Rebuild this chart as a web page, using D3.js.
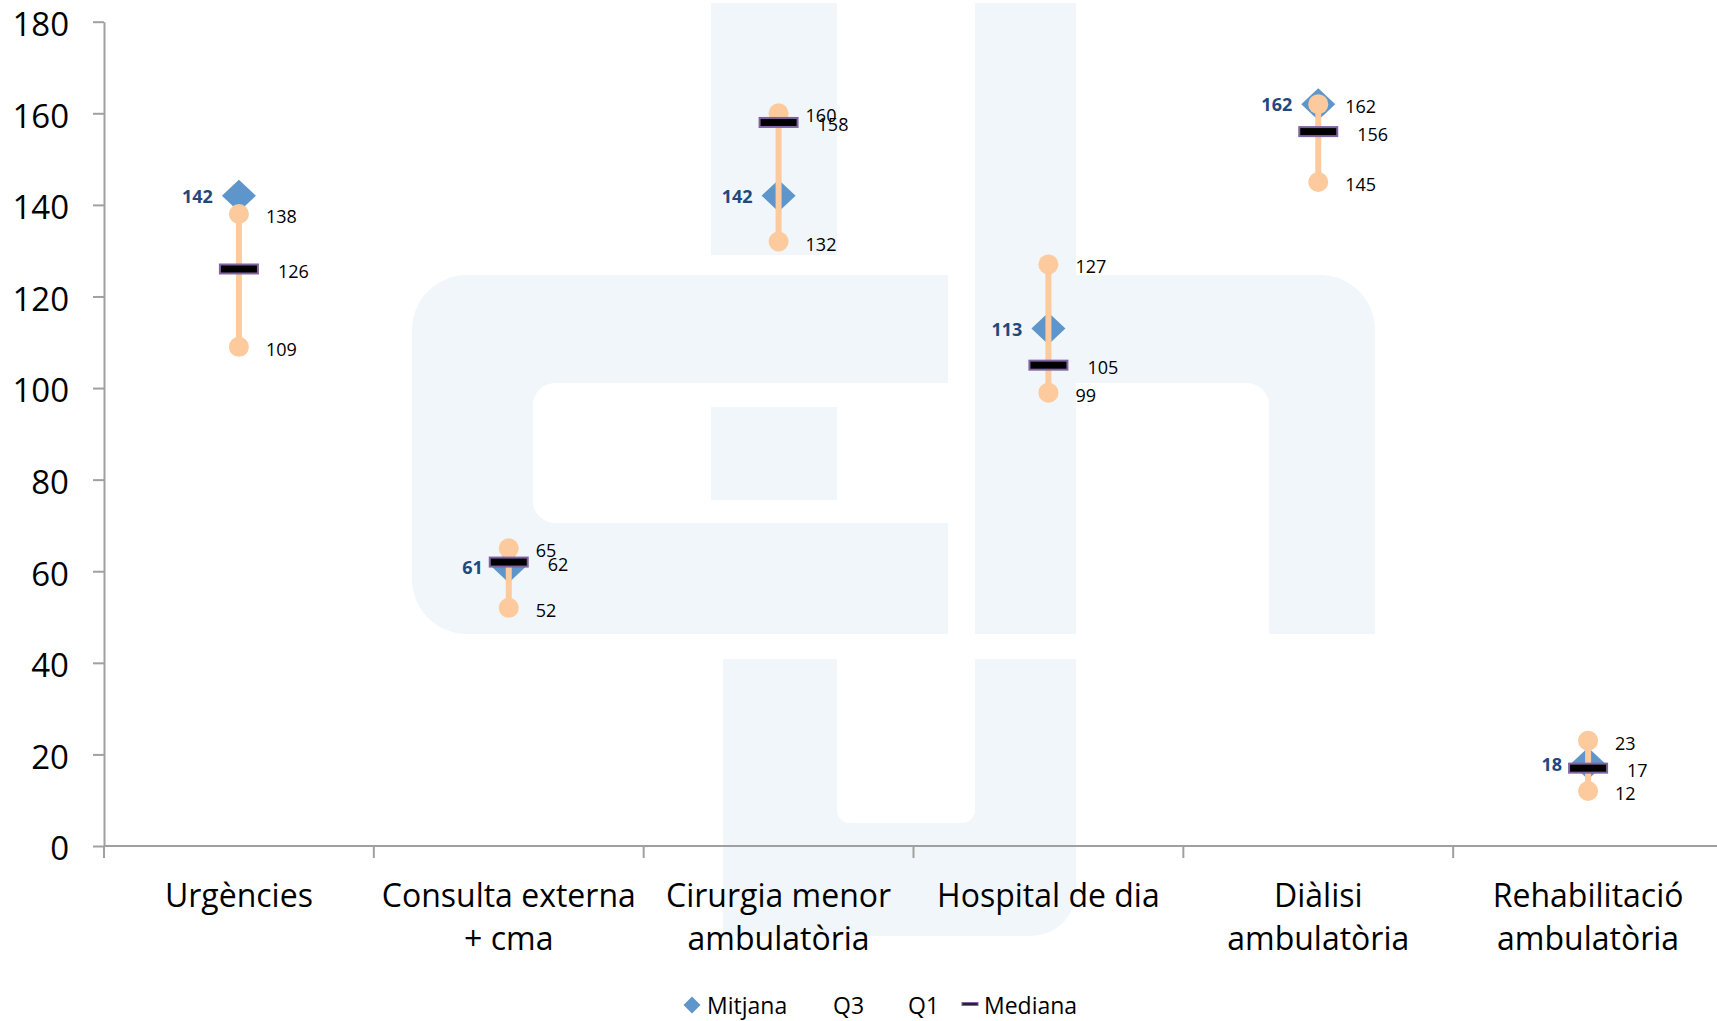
<!DOCTYPE html>
<html lang="ca">
<head>
<meta charset="UTF-8">
<title>Mitjana, quartils i mediana</title>
<style>
  body{margin:0;background:#fff;}
  svg text{font-family:"Open Sans",sans-serif;fill:#000;}
  .axis path,.axis line{stroke:#a0a0a0;stroke-width:2px;}
  .mark{fill:#f1f6fa;}
  .hole{fill:#fff;}
</style>
</head>
<body>
<svg id="chart" width="1717" height="1021"></svg>
<script src="https://d3js.org/d3.v7.min.js"></script>
<script>
// dades
var categories = ['Urgències','Consulta externa + cma','Cirurgia menor ambulatòria','Hospital de dia','Diàlisi ambulatòria','Rehabilitació ambulatòria'];
var catLabels = [['Urgències'],['Consulta externa','+ cma'],['Cirurgia menor','ambulatòria'],['Hospital de dia'],['Diàlisi','ambulatòria'],['Rehabilitació','ambulatòria']];
var mitjana = [142, 61, 142, 113, 162, 18];
var q3      = [138, 65, 160, 127, 162, 23];
var q1      = [109, 52, 132,  99, 145, 12];
var mediana = [126, 62, 158, 105, 156, 17];
var yTicks  = [0, 20, 40, 60, 80, 100, 120, 140, 160, 180];
var legendItems = ['Mitjana', 'Q3', 'Q1', 'Mediana'];

var W = 1717, H = 1021;
var svg = d3.select('#chart');
svg.append('rect').attr('width', W).attr('height', H).attr('fill', '#fff');

// rounded rect with separate corners [tl,tr,br,bl]
function rr(x0, y0, x1, y1, r){
	var p = d3.path();
	p.moveTo(x0 + r[0], y0);
	p.lineTo(x1 - r[1], y0);
	if(r[1]) p.arcTo(x1, y0, x1, y0 + r[1], r[1]);
	p.lineTo(x1, y1 - r[2]);
	if(r[2]) p.arcTo(x1, y1, x1 - r[2], y1, r[2]);
	p.lineTo(x0 + r[3], y1);
	if(r[3]) p.arcTo(x0, y1, x0, y1 - r[3], r[3]);
	p.lineTo(x0, y0 + r[0]);
	if(r[0]) p.arcTo(x0, y0, x0 + r[0], y0, r[0]);
	p.closePath();
	return p.toString();
}

// logo de fons (marca d'aigua)
var wm = svg.append('g');
wm.append('path').attr('class','mark').attr('d', rr(711, 3, 837, 255, [0,0,0,0]));
wm.append('path').attr('class','mark').attr('d', rr(412, 275, 948, 634, [55,0,0,55]));
wm.append('path').attr('class','hole').attr('d', rr(533, 383, 949, 523, [22,0,0,22]));
wm.append('path').attr('class','mark').attr('d', rr(711, 407, 837, 500, [0,0,0,0]));
wm.append('path').attr('class','mark').attr('d', rr(975, 3, 1076, 634, [0,0,0,0]));
wm.append('path').attr('class','mark').attr('d', rr(1076, 275, 1375, 634, [0,55,0,0]));
wm.append('path').attr('class','hole').attr('d', rr(1076, 383, 1269, 635, [0,22,0,0]));
wm.append('path').attr('class','mark').attr('d', rr(723, 659, 1076, 936, [0,0,45,0]));
wm.append('path').attr('class','hole').attr('d', rr(837, 658, 975, 823, [0,0,13,13]));

// escales
var y = d3.scaleLinear().domain([0, 180]).range([846, 21.7]);
var x = d3.scaleBand().domain(categories).range([104, 1723]).padding(0);
var cx = function(i){ return x(categories[i]) + x.bandwidth() / 2; };

// eix Y
var gy = svg.append('g').attr('class','axis').attr('transform','translate(104,0)')
	.call(d3.axisLeft(y).tickValues(yTicks).tickSize(11).tickPadding(24).tickSizeOuter(0));
gy.selectAll('text').attr('font-size', 33).attr('font-family','"Open Sans",sans-serif')
	.attr('fill','#000').attr('dy','0.42em');

// eix X
var gx = svg.append('g').attr('class','axis').attr('transform','translate(0,846)')
	.call(d3.axisBottom(x).tickSize(0).tickFormat(''));
gx.select('.domain').attr('d', 'M104,0H1717');
gx.selectAll('.bound').data(d3.range(categories.length))
	.enter().append('line').attr('class','bound')
	.attr('x1', function(i){ return x(categories[i]); })
	.attr('x2', function(i){ return x(categories[i]); })
	.attr('y1', 0).attr('y2', 12);

var lab = svg.append('g').selectAll('text').data(catLabels).enter().append('text')
	.attr('text-anchor','middle').attr('font-size', 32)
	.attr('x', function(d, i){ return cx(i); })
	.attr('y', 907);
lab.selectAll('tspan').data(function(d){ return d; }).enter().append('tspan')
	.attr('x', function(){ return d3.select(this.parentNode).attr('x'); })
	.attr('dy', function(d, j){ return j ? 43 : 0; })
	.text(function(d){ return d; });

function diamond(w, h){
	return 'M0,' + (-h) + 'L' + w + ',0L0,' + h + 'L' + (-w) + ',0Z';
}

var idx = d3.range(categories.length);
var marks = svg.append('g');

// mitjana (rombe)
marks.selectAll('.mean').data(idx).enter().append('path').attr('class','mean')
	.attr('d', diamond(17, 16)).attr('fill', '#5e96cb')
	.attr('transform', function(i){ return 'translate(' + cx(i) + ',' + y(mitjana[i]) + ')'; });

// línia Q1-Q3
marks.selectAll('.iqr').data(idx).enter().append('line').attr('class','iqr')
	.attr('x1', cx).attr('x2', cx)
	.attr('y1', function(i){ return y(q1[i]); })
	.attr('y2', function(i){ return y(q3[i]); })
	.attr('stroke', '#fcca9c').attr('stroke-width', 6);

[q3, q1].forEach(function(s){
	marks.append('g').selectAll('circle').data(idx).enter().append('circle')
		.attr('cx', cx).attr('cy', function(i){ return y(s[i]); })
		.attr('r', 10).attr('fill', '#fcca9c');
});

// mediana
marks.selectAll('.med').data(idx).enter().append('rect').attr('class','med')
	.attr('x', function(i){ return cx(i) - 19; })
	.attr('y', function(i){ return y(mediana[i]) - 4.5; })
	.attr('width', 38).attr('height', 9)
	.attr('fill', '#000').attr('stroke', '#8064a2').attr('stroke-width', 2);

// etiquetes
var labels = svg.append('g').attr('font-size', 18);
labels.selectAll('.lmean').data(idx).enter().append('text').attr('class','lmean')
	.attr('x', function(i){ return cx(i) - 26; })
	.attr('y', function(i){ return y(mitjana[i]) + 7; })
	.attr('text-anchor','end').attr('font-weight','bold').style('fill','#1f497d')
	.text(function(i){ return mitjana[i]; });
[q3, q1].forEach(function(s){
	labels.append('g').selectAll('text').data(idx).enter().append('text')
		.attr('x', function(i){ return cx(i) + 27; })
		.attr('y', function(i){ return y(s[i]) + 9; })
		.text(function(i){ return s[i]; });
});
labels.selectAll('.lmed').data(idx).enter().append('text').attr('class','lmed')
	.attr('x', function(i){ return cx(i) + 39; })
	.attr('y', function(i){ return y(mediana[i]) + 9; })
	.text(function(i){ return mediana[i]; });

// llegenda
var legX = [707, 833, 908, 984];
var leg = svg.append('g').attr('font-size', 23);
leg.selectAll('text').data(legendItems).enter().append('text')
	.attr('x', function(d, i){ return legX[i]; }).attr('y', 1014)
	.text(function(d){ return d; });
leg.append('path').attr('d', diamond(8.5, 8.5)).attr('fill', '#5e96cb')
	.attr('transform', 'translate(692,1005)');
leg.append('rect').attr('x', 962).attr('y', 1002.5).attr('width', 16).attr('height', 3)
	.attr('fill', '#2a1f3a').attr('stroke', '#8064a2').attr('stroke-width', 1);
</script>
</body>
</html>
